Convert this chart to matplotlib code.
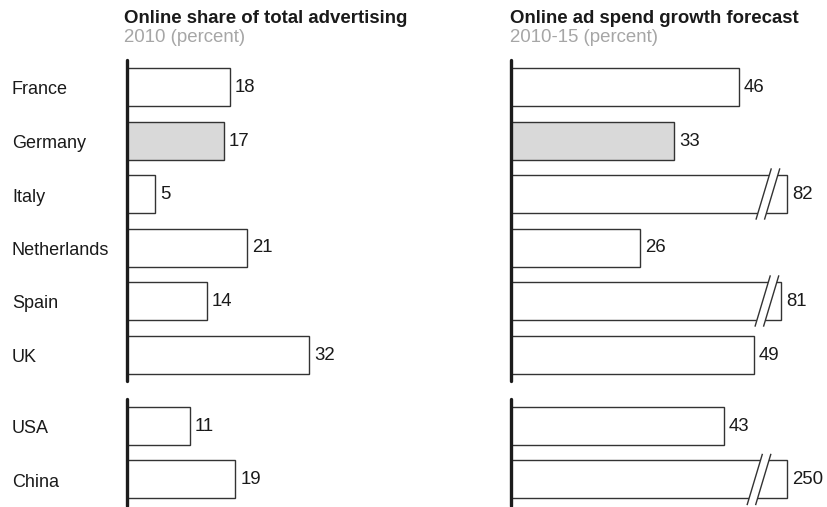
import matplotlib
matplotlib.use("Agg")
import matplotlib.pyplot as plt
from matplotlib import transforms
import numpy as np

# ---- data ----
countries = ["France", "Germany", "Italy", "Netherlands", "Spain", "UK", "USA", "China"]
groups = [0, 0, 0, 0, 0, 0, 1, 1]
share_2010 = [18, 17, 5, 21, 14, 32, 11, 19]
growth_2010_15 = [46, 33, 82, 26, 81, 49, 43, 250]
highlight = "Germany"

left_title = "Online share of total advertising"
left_sub = "2010 (percent)"
right_title = "Online ad spend growth forecast"
right_sub = "2010-15 (percent)"

# broken (truncated) bars in the right panel: drawn length and break location (data units)
broken = {"Italy": (55.8, 51.9), "Spain": (54.6, 51.7), "China": (55.8, 50.1)}

# ---- style ----
plt.rcParams['font.family'] = ['Liberation Sans', 'DejaVu Sans']
W, H = 828, 507
fig = plt.figure(figsize=(W / 100, H / 100), dpi=100)

EDGE = "#333333"
AXC = "#1c1c1c"
GRAY_FILL = "#d9d9d9"
SUB_C = "#a6a6a6"
TXT = "#1a1a1a"

row_px = 53.5
top_center_px = 87
group_gap = 0.336
pos = np.array([i + group_gap * g for i, g in enumerate(groups)])
ylim = (H - top_center_px) / row_px, -top_center_px / row_px

def make_ax(x0_px, width_px, px_per_unit):
    ax = fig.add_axes([x0_px / W, 0, width_px / W, 1])
    ax.set_xlim(0, width_px / px_per_unit)
    ax.set_ylim(*ylim)
    ax.axis("off")
    return ax

axL = make_ax(127, 360, 5.7)
axR = make_ax(511, 317, 4.95)
ppu = {axL: 5.7, axR: 4.95}

bar_h = 38 / row_px

def draw_axis_lines(ax):
    for g in sorted(set(groups)):
        p = pos[np.array(groups) == g]
        ax.plot([0, 0], [p.min() - 0.5, p.max() + 0.5], color=AXC, lw=2.4,
                solid_capstyle="round", clip_on=False, zorder=5)

def draw_panel(ax, values, brk=None):
    px = ppu[ax]
    for c, v, y in zip(countries, values, pos):
        fc = GRAY_FILL if c == highlight else "white"
        length = v
        if brk and c in brk:
            length = brk[c][0]
        ax.barh(y, length, height=bar_h, left=0, color=fc, edgecolor=EDGE,
                linewidth=1.0, zorder=2)
        if brk and c in brk:
            xc = brk[c][1]
            half_dx = 7.5 / px
            gap = 8.5 / px
            half_dy = 25 / row_px
            x1 = xc - gap / 2
            x2 = xc + gap / 2
            # white gap between the slashes
            poly_x = [x1 - half_dx, x1 + half_dx, x2 + half_dx, x2 - half_dx]
            poly_y = [y + half_dy, y - half_dy, y - half_dy, y + half_dy]
            ax.fill(poly_x, poly_y, color="white", zorder=3, lw=0)
            for xs in (x1, x2):
                ax.plot([xs - half_dx, xs + half_dx], [y + half_dy, y - half_dy],
                        color=EDGE, lw=1.0, zorder=4, clip_on=False)
        ax.text(length + 5 / px, y + 5 / row_px, str(v), fontsize=13.4, color=TXT,
                ha="left", va="baseline", zorder=6)
    draw_axis_lines(ax)

draw_panel(axL, share_2010)
draw_panel(axR, growth_2010_15, broken)

# country labels
tr = transforms.blended_transform_factory(fig.transFigure, axL.transData)
for c, y in zip(countries, pos):
    axL.text(12 / W, y + 7.5 / row_px, c, transform=tr, fontsize=13, color=TXT,
             ha="left", va="baseline", clip_on=False)

# titles
for ax, t, s, xp in [(axL, left_title, left_sub, 124), (axR, right_title, right_sub, 510)]:
    fig.text(xp / W, 1 - 22.7 / H, t, fontsize=13.4, fontweight="bold", color=TXT,
             ha="left", va="baseline")
    fig.text(xp / W, 1 - 41.7 / H, s, fontsize=13.4, color=SUB_C,
             ha="left", va="baseline")

fig.savefig("out.png", dpi=100)
